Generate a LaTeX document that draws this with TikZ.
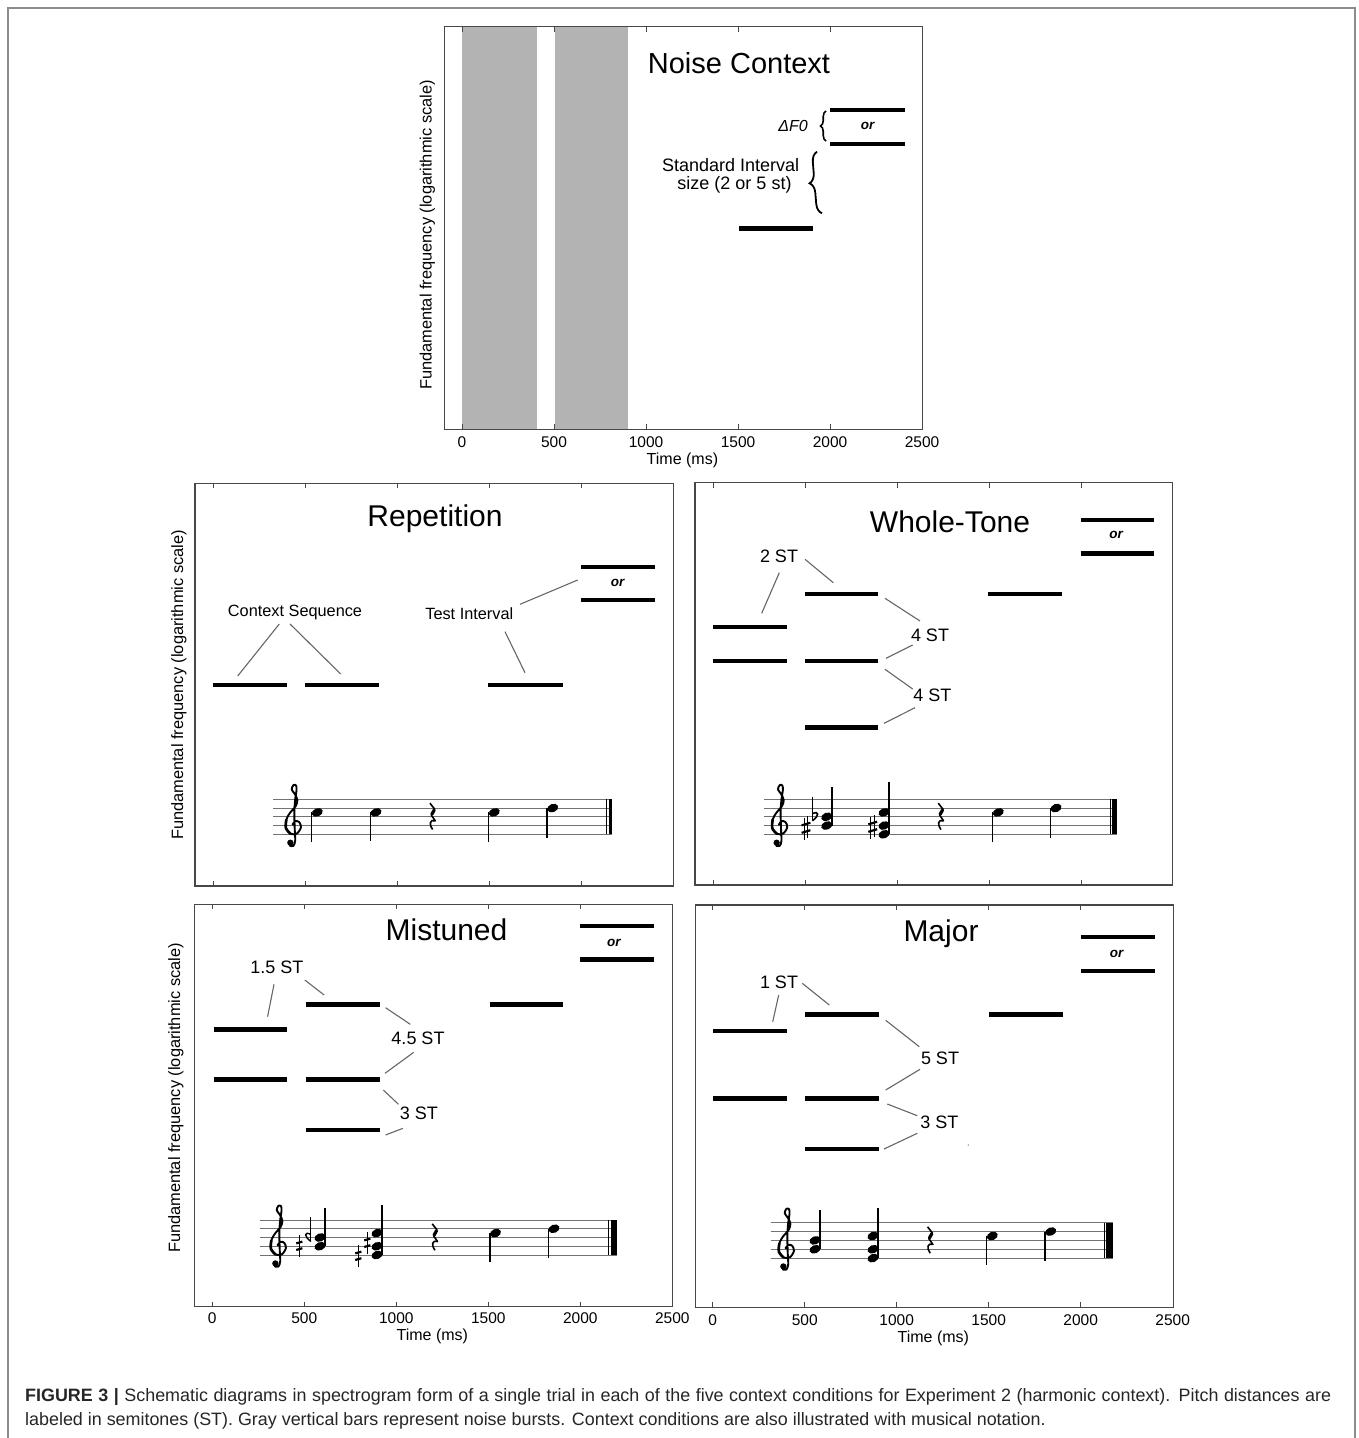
\documentclass[tikz,border=0pt]{standalone}
\usepackage{fontspec}
\setmainfont{Liberation Sans}
\usetikzlibrary{decorations.pathreplacing}
\definecolor{noisegray}{RGB}{179,179,179}
\tikzset{
 axbox/.style={draw=black!72, line width=1.2pt},
 tickmark/.style={draw=black!72, line width=1pt},
 tone/.style={draw=black, line width=4.4pt},
 leader/.style={draw=black!60, line width=1.1pt},
 staffline/.style={draw=black!55, line width=1pt},
 stemline/.style={draw=black, line width=1.5pt},
 ttl/.style={font=\fontsize{30}{30}\selectfont, inner sep=0pt},
 lab/.style={font=\fontsize{18}{18}\selectfont, inner sep=0pt},
 smalllab/.style={font=\fontsize{16.3}{16.3}\selectfont, inner sep=0pt},
 orlab/.style={font=\fontsize{13.5}{13.5}\selectfont\bfseries\itshape, inner sep=0pt},
 ticklab/.style={font=\fontsize{15.5}{15.5}\selectfont, inner sep=0pt},
 axlab/.style={font=\fontsize{16}{16}\selectfont, inner sep=0pt},
 ylab/.style={font=\fontsize{16.4}{16.4}\selectfont, inner sep=0pt, rotate=90},
 caption/.style={font=\fontsize{17.9}{17.9}\selectfont, text=black!85, inner sep=0pt, anchor=base west},
 gclef/.pic={
  \draw[line width=1.9pt, line cap=round, line join=round, x=8.8pt, y=8.8pt]
   plot[smooth, tension=0.55] coordinates {(-0.05,0.1) (0.25,0.5) (0.7,0.4) (0.9,-0.2) (0.45,-0.9) (-0.25,-0.95) (-0.8,-0.3) (-0.75,0.7) (-0.3,1.5) (0.3,2.2) (0.5,2.9) (0.2,3.6) (-0.15,4.1) (0.05,4.6) (0.35,4.55) (0.4,4.0) (0.25,3.0) (0.15,1.5) (0.2,-0.5) (0.25,-1.7) (0.05,-2.3) (-0.35,-2.3)};
  \draw[line width=2.6pt, x=8.8pt, y=8.8pt] plot[smooth, tension=0.55] coordinates {(-0.25,-0.95) (-0.8,-0.3) (-0.75,0.7)};
  \fill[x=8.8pt, y=8.8pt] (-0.3,-1.95) circle (0.36);
 },
 qrest/.pic={
  \begin{scope}[x=8.8pt, y=8.8pt]
  \draw[line width=1.6pt, line join=round] (-0.2,1.55) -- (0.35,0.85) -- (-0.05,0.2) -- (0.4,-0.45) .. controls (-0.2,-0.25) and (-0.35,-0.85) .. (0.1,-1.45);
  \draw[line width=3.2pt] (0.3,0.8) -- (0.0,0.25);
  \end{scope}
 },
 sharpsym/.pic={
  \begin{scope}[x=8.8pt, y=8.8pt]
  \draw[line width=1pt] (-0.22,-1.35) -- (-0.22,1.15) (0.22,-1.15) -- (0.22,1.35);
  \draw[line width=2.2pt] (-0.5,-0.55) -- (0.5,-0.25) (-0.5,0.3) -- (0.5,0.6);
  \end{scope}
 },
 flatsym/.pic={
  \begin{scope}[x=8.8pt, y=8.8pt]
  \draw[line width=1pt] (-0.3,2.3) -- (-0.3,-0.45);
  \draw[line width=1.6pt] (-0.3,-0.45) .. controls (0.5,0.1) and (0.5,0.75) .. (-0.3,0.35);
  \end{scope}
 },
 hsharp/.pic={
  \begin{scope}[x=8.8pt, y=8.8pt]
  \draw[line width=1pt] (0,-1.3) -- (0,1.3);
  \draw[line width=2.2pt] (-0.35,-0.45) -- (0.35,-0.25) (-0.35,0.3) -- (0.35,0.5);
  \end{scope}
 },
 rflat/.pic={
  \begin{scope}[x=8.8pt, y=8.8pt]
  \draw[line width=1pt] (0.3,2.3) -- (0.3,-0.45);
  \draw[line width=1.4pt] (0.3,-0.45) .. controls (-0.5,0.1) and (-0.5,0.75) .. (0.3,0.35);
  \end{scope}
 },
}
\newcommand{\StaffLines}[4]{\foreach \k in {0,1,2,3,4}{\draw[staffline] (#1,{#3+\k*#4}) -- (#2,{#3+\k*#4});}}
\newcommand{\NHead}[2]{\fill[rotate around={22:(#1,#2)}] (#1,#2) ellipse (5.7 and 4.1);}
\newcommand{\StemD}[3]{\draw[stemline] ({#1-5.6},#2) -- ({#1-5.6},#3);}
\newcommand{\StemU}[3]{\draw[stemline] ({#1+5.2},#2) -- ({#1+5.2},#3);}
\newcommand{\AxTicks}[4]{\foreach \k in {0,...,#4}{\draw[tickmark] ({#1+92*\k},#2) -- ++(0,5); \draw[tickmark] ({#1+92*\k},#3) -- ++(0,-5);}}
\newcommand{\Bar}[4]{\draw[line width=1pt] (#1,#3) -- (#1,#4); \fill ({#1+1.8},#3) rectangle (#2,#4);}

\begin{document}
\begin{tikzpicture}[x=1pt,y=-1pt]
\useasboundingbox (0,0) rectangle (1358,1438);
\fill[white] (0,0) rectangle (1358,1438);
% outer frame
\draw[black!45, line width=1.4pt] (8,1445) -- (8,8) -- (1355,8) -- (1355,1445);

%% ================= Noise Context panel =================
\fill[noisegray] (462,27.3) rectangle (537,428.7);
\fill[noisegray] (555,27.3) rectangle (628.3,428.7);
\draw[axbox] (444.8,26.7) rectangle (922.7,429.3);
\AxTicks{462}{26.7}{429.3}{5}
\node[ticklab] (n0) at (462,441.7) {0};
\node[ticklab] (n500) at (554,441.7) {500};
\node[ticklab] (n1000) at (646,441.7) {1000};
\node[ticklab] (n1500) at (738,441.7) {1500};
\node[ticklab] (n2000) at (830,441.7) {2000};
\node[ticklab] (n2500) at (922,441.7) {2500};
\node[axlab] (ntime) at (682.4,460) {Time (ms)};
\node[ylab] (nylab) at (427.5,235) {Fundamental frequency (logarithmic scale)};
\node[font=\fontsize{29}{29}\selectfont, inner sep=0pt] (ntitle) at (739,63.3) {Noise Context};
\node[font=\fontsize{16}{16}\selectfont\itshape, inner sep=0pt, anchor=east] (ndf) at (808,126) {ΔF0};
\draw[decorate, decoration={brace, amplitude=5.5pt}, line width=1.6pt] (826,141) -- (826,111);
\draw[tone] (830.4,110) -- (904.5,110);
\draw[tone] (830.4,144) -- (904.5,144);
\node[orlab] (nor) at (867.6,126) {or};
\node[lab] (nstd1) at (730.6,165) {Standard Interval};
\node[lab] (nstd2) at (734.5,185) {size (2 or 5 st)};
\draw[decorate, decoration={brace, amplitude=10pt}, line width=1.8pt] (822,213.3) -- (817,151.7);
\draw[tone] (739.2,228.3) -- (812.5,228.3);

%% ================= Repetition panel =================
\draw[axbox] (195,483.3) rectangle (673.3,886);
\AxTicks{213}{483.3}{886}{4}
\node[ylab] (rylab) at (179,685) {Fundamental frequency (logarithmic scale)};
\node[ttl] (rtitle) at (435,519) {Repetition};
\draw[tone] (212.7,684.7) -- (287.3,684.7);
\draw[tone] (305,684.7) -- (379.3,684.7);
\draw[tone] (488.3,684.7) -- (563.3,684.7);
\draw[tone] (581,566.7) -- (655,566.7);
\draw[tone] (581,600) -- (655,600);
\node[orlab] (ror) at (617.7,582.7) {or};
\node[smalllab] (rctx) at (295,612.7) {Context Sequence};
\node[smalllab] (rtest) at (469.3,613.3) {Test Interval};
\draw[leader] (279.3,624) -- (237.7,676);
\draw[leader] (290,624) -- (340.7,674);
\draw[leader] (505,631.7) -- (525,672.7);
\draw[leader] (520,604.3) -- (577.7,580);
% staff
\StaffLines{273.3}{612.3}{799.3}{8.75}
\pic at (293,825.55) {gclef};
\NHead{317.3}{812.4} \StemD{317.3}{812.4}{841.7}
\NHead{376}{812.4} \StemD{376}{812.4}{840.7}
\pic at (431.7,816.8) {qrest};
\NHead{494.3}{812.4} \StemD{494.3}{812.4}{842}
\NHead{552.7}{808.05} \StemD{552.7}{808.05}{838}
\Bar{606.7}{612.3}{799.3}{834.3}

%% ================= Whole-Tone panel =================
\draw[axbox] (695,482.7) rectangle (1172.7,885);
\AxTicks{713}{482.7}{885}{4}
\node[ttl] (wtitle) at (950,521.7) {Whole-Tone};
\draw[tone] (1080.7,520) -- (1154,520);
\draw[tone] (1080.7,553.3) -- (1154,553.3);
\node[orlab] (wor) at (1116,535) {or};
\draw[tone] (712.7,626.7) -- (786.7,626.7);
\draw[tone] (712.7,660.7) -- (786.7,660.7);
\draw[tone] (805,594) -- (878.3,594);
\draw[tone] (805,660.7) -- (878.3,660.7);
\draw[tone] (805,727.3) -- (878.3,727.3);
\draw[tone] (988.3,594) -- (1062.3,594);
\node[lab] (w2st) at (779,556) {2 ST};
\node[lab] (w4a) at (930,635) {4 ST};
\node[lab] (w4b) at (932.3,695.7) {4 ST};
\draw[leader] (779.3,572.7) -- (761.7,613.3);
\draw[leader] (805,559.3) -- (833.3,582.7);
\draw[leader] (885,598.3) -- (920,621);
\draw[leader] (886,658.3) -- (912.7,645);
\draw[leader] (885,669.3) -- (912.7,689);
\draw[leader] (884,723.3) -- (915,707.7);
% staff
\StaffLines{764}{1116.7}{799.3}{8.75}
\pic at (779.3,825.55) {gclef};
\pic at (806,828) {sharpsym};
\pic at (815,816.8) {flatsym};
\NHead{826.7}{816.8} \NHead{826.7}{825.55}
\StemU{826.7}{825.55}{786.7}
\pic at (872.7,827) {sharpsym};
\NHead{884}{812.4} \NHead{884}{825.55} \NHead{884}{834.3}
\StemU{884}{834.3}{782.3}
\pic at (940,816.8) {qrest};
\NHead{998.3}{812.4} \StemD{998.3}{812.4}{841.7}
\NHead{1056}{808.05} \StemD{1056}{808.05}{837.7}
\Bar{1110}{1116.7}{799.3}{834.3}

%% ================= Mistuned panel =================
\draw[axbox] (194.5,904.3) rectangle (672.3,1306.7);
\AxTicks{212.3}{904.3}{1306.7}{4}
\node[ticklab] (m0) at (212.3,1318.3) {0};
\node[ticklab] (m500) at (304.3,1318.3) {500};
\node[ticklab] (m1000) at (396.3,1318.3) {1000};
\node[ticklab] (m1500) at (488.3,1318.3) {1500};
\node[ticklab] (m2000) at (580.3,1318.3) {2000};
\node[ticklab] (m2500) at (672.3,1318.3) {2500};
\node[axlab] (mtime) at (432.3,1336.7) {Time (ms)};
\node[ylab] (mylab) at (176,1098) {Fundamental frequency (logarithmic scale)};
\node[ttl] (mtitle) at (446.5,930) {Mistuned};
\draw[tone] (580,925.7) -- (653.7,925.7);
\draw[tone] (580,959.3) -- (653.7,959.3);
\node[orlab] (mor) at (613.8,943.3) {or};
\draw[tone] (213.6,1029.3) -- (287,1029.3);
\draw[tone] (213.6,1079.3) -- (287,1079.3);
\draw[tone] (305.5,1004.3) -- (379.9,1004.3);
\draw[tone] (305.5,1079.3) -- (379.9,1079.3);
\draw[tone] (305.5,1130) -- (379.9,1130);
\draw[tone] (489.8,1004.3) -- (563.1,1004.3);
\node[lab] (m15) at (276.8,967.7) {1.5 ST};
\node[lab] (m45) at (418,1038.3) {4.5 ST};
\node[lab] (m3) at (418.8,1113.3) {3 ST};
\draw[leader] (274,984.3) -- (267.6,1016.7);
\draw[leader] (304.8,980) -- (324.1,995);
\draw[leader] (385.6,1007.7) -- (410.3,1024.3);
\draw[leader] (413.7,1052.3) -- (385,1073.3);
\draw[leader] (383.3,1090) -- (398.5,1104.3);
\draw[leader] (402.9,1128.3) -- (385.6,1135);
% staff
\StaffLines{259.9}{616.5}{1220}{8.75}
\pic at (278,1246.25) {gclef};
\pic at (299.3,1246) {hsharp};
\pic at (308.3,1237.5) {rflat};
\NHead{320}{1237.5} \NHead{320}{1246.25}
\StemU{320}{1246.25}{1207.7}
\pic at (358.3,1256) {hsharp};
\pic at (367.3,1243) {hsharp};
\NHead{377}{1233.1} \NHead{377}{1246.25} \NHead{377}{1255}
\StemU{377}{1255}{1205}
\pic at (434,1237.5) {qrest};
\NHead{495.5}{1233.1} \StemD{495.5}{1233.1}{1261.7}
\NHead{554}{1228.75} \StemD{554}{1228.75}{1257.7}
\Bar{608.8}{616.5}{1220}{1255}

%% ================= Major panel =================
\draw[axbox] (695.7,905) rectangle (1173.3,1307.3);
\AxTicks{712.7}{905}{1307.3}{4}
\node[ticklab] (j0) at (712.7,1320) {0};
\node[ticklab] (j500) at (804.7,1320) {500};
\node[ticklab] (j1000) at (896.7,1320) {1000};
\node[ticklab] (j1500) at (988.7,1320) {1500};
\node[ticklab] (j2000) at (1080.7,1320) {2000};
\node[ticklab] (j2500) at (1172.7,1320) {2500};
\node[axlab] (jtime) at (933.3,1338.3) {Time (ms)};
\node[ttl] (jtitle) at (941,933.3) {Major};
\draw[tone] (1081,937) -- (1155,937);
\draw[tone] (1081,971) -- (1155,971);
\node[orlab] (jor) at (1116.7,954.3) {or};
\draw[tone] (713.3,1031) -- (787.3,1031);
\draw[tone] (713.3,1098.3) -- (787.3,1098.3);
\draw[tone] (805.3,1014.3) -- (879.3,1014.3);
\draw[tone] (805.3,1098.3) -- (879.3,1098.3);
\draw[tone] (805.3,1149) -- (879.3,1149);
\draw[tone] (989.3,1014.3) -- (1062.7,1014.3);
\node[lab] (j1) at (779,982.7) {1 ST};
\node[lab] (j5) at (940,1058.3) {5 ST};
\node[lab] (j3) at (939.3,1122.7) {3 ST};
\draw[leader] (778.7,995) -- (772.7,1021.7);
\draw[leader] (802.3,983.3) -- (829.3,1005);
\draw[leader] (885.7,1020.3) -- (919.3,1046.7);
\draw[leader] (920,1069.3) -- (885.7,1090);
\draw[leader] (887.3,1104) -- (917.3,1115.7);
\draw[leader] (917.3,1133.3) -- (884,1149);
\fill[black!40] (968.3,1145) circle (0.8);
% staff
\StaffLines{770.7}{1112.7}{1222.7}{8.85}
\pic at (786,1249.25) {gclef};
\NHead{815}{1240.4} \NHead{815}{1249.25}
\StemU{815}{1249.25}{1210}
\NHead{873}{1236} \NHead{873}{1249.25} \NHead{873}{1258.1}
\StemU{873}{1258.1}{1207.7}
\pic at (929.3,1240.4) {qrest};
\NHead{992.3}{1236} \StemD{992.3}{1236}{1265}
\NHead{1050.7}{1231.55} \StemD{1050.7}{1231.55}{1260.7}
\Bar{1104}{1112.7}{1222.7}{1258.1}

%% ================= Caption =================
\node[caption] (cap1) at (25,1401.5) {\makebox[1306pt][s]{\textbf{FIGURE 3 |} Schematic diagrams in spectrogram form of a single trial in each of the five context conditions for Experiment 2 (harmonic context). Pitch distances are}};
\node[caption] (cap2) at (25,1425.5) {labeled in semitones (ST). Gray vertical bars represent noise bursts. Context conditions are also illustrated with musical notation.};
\end{tikzpicture}
\end{document}
